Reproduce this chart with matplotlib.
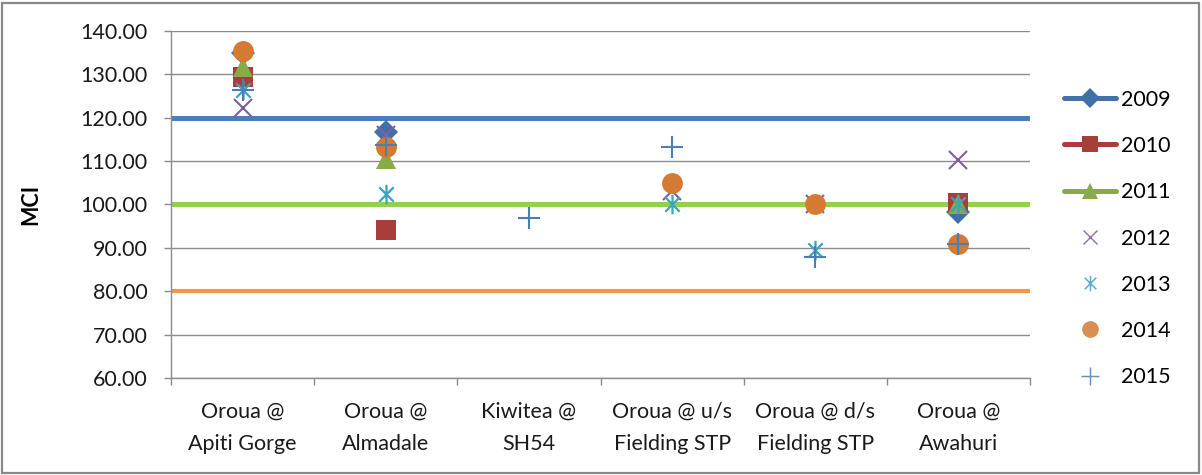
import numpy as np
import matplotlib
matplotlib.use("Agg")
import matplotlib.pyplot as plt
from matplotlib.lines import Line2D
from matplotlib.path import Path
from matplotlib.patches import Rectangle

plt.rcParams["font.family"] = ["Lato", "DejaVu Sans"]

sites = ["Oroua @\nApiti Gorge", "Oroua @\nAlmadale", "Kiwitea @\nSH54",
         "Oroua @ u/s\nFielding STP", "Oroua @ d/s\nFielding STP", "Oroua @\nAwahuri"]
years = ["2009", "2010", "2011", "2012", "2013", "2014", "2015"]
nan = np.nan
mci_2009 = [135.0, 116.8, nan, nan, nan, 98.2]
mci_2010 = [129.5, 94.2, nan, nan, nan, 100.4]
mci_2011 = [131.8, 110.6, nan, nan, nan, 100.0]
mci_2012 = [122.2, 116.0, nan, 103.0, 100.0, 110.3]
mci_2013 = [126.4, 102.4, nan, 100.2, 89.5, 100.2]
mci_2014 = [135.3, 113.2, nan, 105.0, 100.0, 91.0]
mci_2015 = [126.4, 113.8, 97.0, 113.3, 87.8, 91.0]
series = [mci_2009, mci_2010, mci_2011, mci_2012, mci_2013, mci_2014, mci_2015]

# guideline levels across the chart
ref_levels = [120, 100, 80]
ref_colors = ["#4A7EBB", "#92D050", "#F79646"]
ref_widths = [3.6, 3.6, 3.0]

# six-armed star: an x with a vertical bar
star = Path([(-1, -1), (1, 1), (-1, 1), (1, -1), (0, -1.35), (0, 1.35)],
            [Path.MOVETO, Path.LINETO, Path.MOVETO, Path.LINETO, Path.MOVETO, Path.LINETO])

styles = [
    dict(marker="D", color="#4170A8", ms=12.5, mew=0),
    dict(marker="s", color="#A83E3B", ms=14, mew=0),
    dict(marker="^", color="#88AA47", ms=14, mew=0),
    dict(marker="x", color="#7C5FA0", ms=13, mew=1.5),
    dict(marker=star, color="#3DA3BF", ms=14, mew=1.6),
    dict(marker="o", color="#D47A32", ms=15, mew=0),
    dict(marker="+", color="#4A7EBB", ms=16, mew=1.5),
]
legend_lines = ["#4670A8", "#A83E3B", "#88AA47", None, None, None, None]

fig = plt.figure(figsize=(12.02, 4.75), dpi=100)
ax = fig.add_axes([171 / 1202, 1 - 378 / 475, (1030 - 171) / 1202, (378 - 31) / 475])

x = np.arange(len(sites))
for lvl, c, w in zip(ref_levels, ref_colors, ref_widths):
    ax.axhline(lvl, color=c, lw=w, zorder=2)

handles = []
for vals, st, lc, yr in zip(series, styles, legend_lines, years):
    ax.plot(x, vals, ls="none", marker=st["marker"], ms=st["ms"], mew=st["mew"],
            color=st["color"], mec=st["color"], zorder=3)
    if lc is None:
        h = Line2D([], [], ls="none", marker=st["marker"], color=st["color"],
                   ms=st["ms"] * 0.8, mew=st["mew"] * 0.7, alpha=0.85)
    else:
        h = Line2D([], [], color=lc, lw=3.6, marker=st["marker"], mfc=st["color"],
                   mec=st["color"], ms=st["ms"] * 0.8, mew=0, solid_capstyle="round")
    handles.append(h)

ax.set_xlim(-0.5, len(sites) - 0.5)
ax.set_ylim(60, 140)
ax.set_yticks(np.arange(60, 141, 10))
ax.set_yticklabels([f"{v:.2f}" for v in np.arange(60, 141, 10)])
ax.set_xticks(x)
ax.set_xticklabels(sites, linespacing=1.75)
ax.set_xticks(np.arange(-0.5, len(sites)), minor=True)
ax.yaxis.grid(True, color="#8C8C8C", lw=1.0, zorder=1)
ax.set_axisbelow(True)

for s in ["top", "right"]:
    ax.spines[s].set_visible(False)
for s in ["left", "bottom"]:
    ax.spines[s].set_color("#8C8C8C")
    ax.spines[s].set_linewidth(1.0)

ax.tick_params(axis="y", length=5, width=1.0, color="#8C8C8C", pad=12, labelsize=15.5,
               labelcolor="#1a1a1a")
ax.tick_params(axis="x", which="major", length=0, pad=17, labelsize=15.5, labelcolor="#1a1a1a")
ax.tick_params(axis="x", which="minor", length=5, width=1.0, color="#8C8C8C")

ax.set_ylabel("MCI", fontsize=15.5, fontweight="bold")
ax.yaxis.set_label_coords(-0.151, 0.5)

ax.legend(handles, years, loc="center left", bbox_to_anchor=(1.03, 0.402), frameon=False,
          fontsize=15.5, handlelength=2.4, handletextpad=0.25, labelspacing=1.22,
          borderaxespad=0)

fig.add_artist(Rectangle((2 / 1202, 2 / 475), 1197 / 1202, 470 / 475, transform=fig.transFigure,
                         fill=False, ec="#898989", lw=1.6))

fig.savefig("out.png", dpi=100)
